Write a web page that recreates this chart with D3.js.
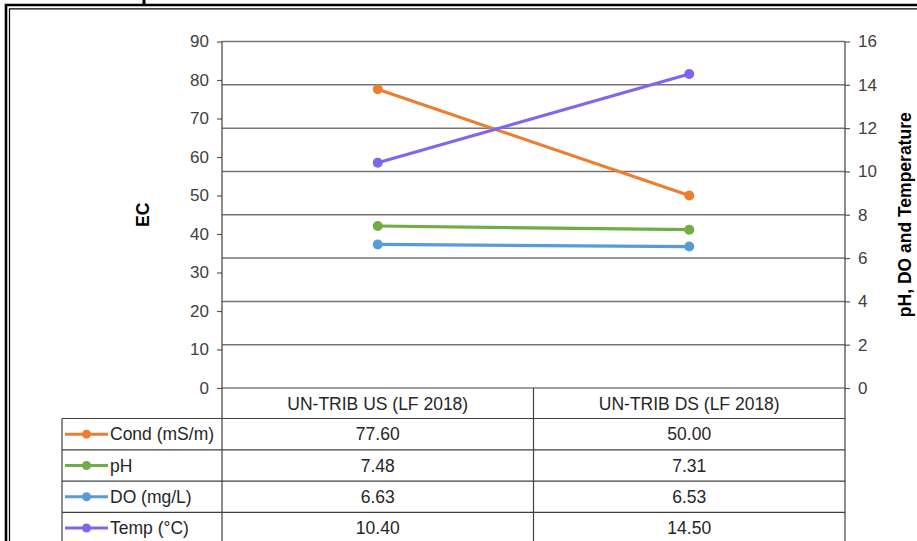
<!DOCTYPE html>
<html>
<head>
<meta charset="utf-8">
<script src="https://cdn.jsdelivr.net/npm/d3@7"></script>
<style>
  html, body { margin: 0; padding: 0; background: #fff; }
  svg { display: block; font-family: "Liberation Sans", Arial, sans-serif; }
</style>
</head>
<body>
<svg id="chart" width="917" height="541"></svg>
<script>
// Sampling sites
const categories = ["UN-TRIB US (LF 2018)", "UN-TRIB DS (LF 2018)"];

// Series values per site
const condValues = [77.60, 50.00];   // left axis (EC)
const phValues   = [7.48, 7.31];     // right axis
const doValues   = [6.63, 6.53];     // right axis
const tempValues = [10.40, 14.50];   // right axis

// Axis tick labels
const leftTicks  = [0, 10, 20, 30, 40, 50, 60, 70, 80, 90];
const rightTicks = [0, 2, 4, 6, 8, 10, 12, 14, 16];

const series = [
  { name: "Cond (mS/m)", values: condValues, axis: "left",  color: "#ED7D31" },
  { name: "pH",          values: phValues,   axis: "right", color: "#70AD47" },
  { name: "DO (mg/L)",   values: doValues,   axis: "right", color: "#5B9BD5" },
  { name: "Temp (°C)",   values: tempValues, axis: "right", color: "#7F66F2" }
];

const svg = d3.select("#chart");
const FS = 17.5;

// Plot area
const plot = { left: 222, right: 845, top: 41.5, bottom: 388 };
const rowH = 31.3;
const headerBottom = 418.5;
const tableLeft = 62;

const x = d3.scaleBand().domain(categories).range([plot.left, plot.right]);
const yL = d3.scaleLinear().domain([0, 90]).range([plot.bottom, plot.top]);
const yR = d3.scaleLinear().domain([0, 16]).range([plot.bottom, plot.top]);

// Document frame (double rule)
const frame = svg.append("g").attr("fill", "none").attr("stroke", "#000");
frame.append("path").attr("d", "M6,541 V5 H917").attr("stroke-width", 2.6);
frame.append("path").attr("d", "M9.5,541 V8.8 H917").attr("stroke-width", 1.2);
svg.append("line").attr("x1", 144).attr("x2", 144).attr("y1", 0).attr("y2", 5)
  .attr("stroke", "#000").attr("stroke-width", 3);

// Horizontal gridlines on the right-axis scale
svg.append("g").selectAll("line").data(rightTicks.filter(d => d > 0)).join("line")
  .attr("x1", plot.left).attr("x2", plot.right)
  .attr("y1", d => yR(d)).attr("y2", d => yR(d))
  .attr("stroke", "#757575").attr("stroke-width", 1.5);

// Left axis
const gL = svg.append("g").attr("transform", `translate(${plot.left},0)`)
  .call(d3.axisLeft(yL).tickValues(leftTicks).tickSize(5).tickPadding(8).tickFormat(d3.format("d")));
// Right axis
const gR = svg.append("g").attr("transform", `translate(${plot.right},0)`)
  .call(d3.axisRight(yR).tickValues(rightTicks).tickSize(5).tickPadding(8).tickFormat(d3.format("d")));
[gL, gR].forEach(g => {
  g.select(".domain").remove();
  g.selectAll(".tick line").attr("stroke", "#595959").attr("stroke-width", 1.2);
  g.selectAll(".tick text").attr("font-size", 17).attr("fill", "#404040")
    .attr("font-family", "'Liberation Sans', Arial, sans-serif");
});

// Axis titles
svg.append("text")
  .attr("transform", `translate(149,${(plot.top + plot.bottom) / 2}) rotate(-90)`)
  .attr("text-anchor", "middle").attr("font-size", FS).attr("font-weight", "bold")
  .attr("fill", "#000").text("EC");
svg.append("text")
  .attr("transform", `translate(911,${(plot.top + plot.bottom) / 2}) rotate(-90)`)
  .attr("text-anchor", "middle").attr("font-size", FS).attr("font-weight", "bold")
  .attr("fill", "#000").text("pH, DO and Temperature");

// Data table grid
const tableBottom = 541;
const grid = svg.append("g").attr("stroke", "#404040").attr("stroke-width", 1.2).attr("fill", "none");
// vertical rules: plot edges extend down through the table, plus category divider
grid.append("line").attr("x1", plot.left).attr("x2", plot.left).attr("y1", plot.top).attr("y2", tableBottom);
grid.append("line").attr("x1", plot.right).attr("x2", plot.right).attr("y1", plot.top).attr("y2", tableBottom);
grid.append("line").attr("x1", x(categories[1])).attr("x2", x(categories[1])).attr("y1", plot.bottom).attr("y2", tableBottom);
grid.append("line").attr("x1", tableLeft).attr("x2", tableLeft).attr("y1", headerBottom).attr("y2", tableBottom);
// horizontal rules
grid.append("line").attr("x1", plot.left).attr("x2", plot.right).attr("y1", plot.bottom).attr("y2", plot.bottom);
series.forEach((s, i) => {
  const yy = headerBottom + i * rowH;
  grid.append("line").attr("x1", tableLeft).attr("x2", plot.right).attr("y1", yy).attr("y2", yy);
});

// Category headers
svg.append("g").selectAll("text").data(categories).join("text")
  .attr("x", d => x(d) + x.bandwidth() / 2)
  .attr("y", (plot.bottom + headerBottom) / 2)
  .attr("dy", "0.36em").attr("text-anchor", "middle")
  .attr("font-size", FS).attr("fill", "#262626").text(d => d);

// Table rows: legend key, name and values
const rows = svg.append("g").selectAll("g").data(series).join("g")
  .attr("transform", (d, i) => `translate(0,${headerBottom + i * rowH + rowH / 2})`);
rows.append("line").attr("x1", 65).attr("x2", 108).attr("y1", 0).attr("y2", 0)
  .attr("stroke", d => d.color).attr("stroke-width", 3);
rows.append("circle").attr("cx", 86.5).attr("cy", 0).attr("r", 4.5).attr("fill", d => d.color);
rows.append("text").attr("x", 110).attr("dy", "0.36em").attr("font-size", FS)
  .attr("fill", "#262626").text(d => d.name);
rows.selectAll("text.val").data(d => d.values.map((v, j) => ({ v, cat: categories[j] }))).join("text")
  .attr("class", "val")
  .attr("x", d => x(d.cat) + x.bandwidth() / 2).attr("dy", "0.36em")
  .attr("text-anchor", "middle").attr("font-size", FS).attr("fill", "#262626")
  .text(d => d3.format(".2f")(d.v));

// Series lines and markers
const cx = c => x(c) + x.bandwidth() / 2;
series.forEach(s => {
  const yScale = s.axis === "left" ? yL : yR;
  const pts = s.values.map((v, j) => [cx(categories[j]), yScale(v)]);
  svg.append("path").attr("d", d3.line()(pts))
    .attr("fill", "none").attr("stroke", s.color).attr("stroke-width", 3.2).attr("stroke-linecap", "round");
  svg.append("g").selectAll("circle").data(pts).join("circle")
    .attr("cx", d => d[0]).attr("cy", d => d[1]).attr("r", 5).attr("fill", s.color);
});
</script>
</body>
</html>
